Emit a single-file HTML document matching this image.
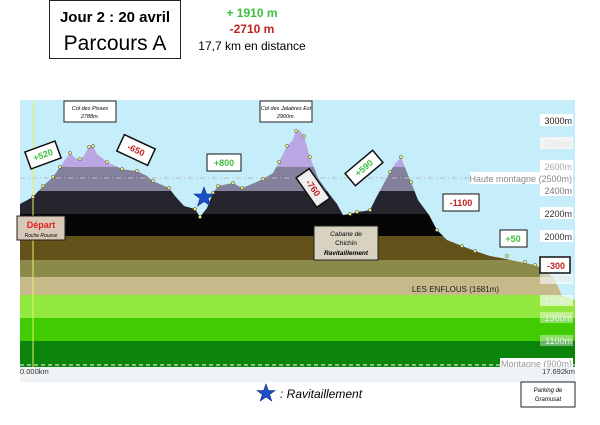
<!DOCTYPE html>
<html><head><meta charset="utf-8"><style>
html,body{margin:0;padding:0;background:#fff;width:600px;height:425px;overflow:hidden}
</style></head><body>
<svg width="600" height="425" viewBox="0 0 600 425" xmlns="http://www.w3.org/2000/svg" font-family="Liberation Sans, sans-serif">
<defs>
<clipPath id="c"><polygon points="20,204 33,197 43,186 53,177 60,167 70,153 75,158 80,159 83,157 89,147 93,146 97,154 107,162 122,169 128,170 137,171 147,176 153,181 169,188 175,196 184,206 195,209 200,217 207,208 213,193 218,186 233,183 242,188 252,184 263,179 273,173 279,162 287,146 292,141 296,131 299,130 304,136 310,157 318,178 330,195 337,204 343,215 350,214 357,212 365,211 370,210 376,198 390,172 395,164 401,157 406,170 411,182 418,200 429,215 437,230 447,240 462,246 475,251 490,256 501,258 520,262 535,265 545,270 555,280 562,296 575,300 575,367 20,367"/></clipPath>
</defs>
<rect x="49.5" y="0.5" width="131" height="58" fill="#fff" stroke="#222"/>
<text x="115" y="22" font-size="15" font-weight="bold" text-anchor="middle">Jour 2 : 20 avril</text>
<text x="115" y="50" font-size="21" text-anchor="middle">Parcours A</text>
<text x="252" y="17" font-size="12" font-weight="bold" fill="#3cc03c" text-anchor="middle">+ 1910 m</text>
<text x="252" y="33" font-size="12" font-weight="bold" fill="#c02020" text-anchor="middle">-2710 m</text>
<text x="252" y="50" font-size="12" text-anchor="middle">17,7 km en distance</text>
<rect x="20" y="100" width="555" height="267" fill="#c6eefa"/>
<g clip-path="url(#c)">
<rect x="20" y="100" width="555" height="67" fill="#b9a6e3"/>
<rect x="20" y="167" width="555" height="24" fill="#82809a"/>
<rect x="20" y="191" width="555" height="23" fill="#26252e"/>
<rect x="20" y="214" width="555" height="22" fill="#050505"/>
<rect x="20" y="236" width="555" height="24" fill="#625118"/>
<rect x="20" y="260" width="555" height="17" fill="#8c8a4a"/>
<rect x="20" y="277" width="555" height="18" fill="#c6b98a"/>
<rect x="20" y="295" width="555" height="23" fill="#92e840"/>
<rect x="20" y="318" width="555" height="23" fill="#40cc00"/>
<rect x="20" y="341" width="555" height="26" fill="#0b840b"/>
</g>
<line x1="20" y1="178" x2="575" y2="178" stroke="#bbb" stroke-dasharray="5,3,1,3"/>
<line x1="20" y1="365" x2="575" y2="365" stroke="#fff" stroke-dasharray="4,3"/>
<line x1="33" y1="100" x2="33" y2="367" stroke="#e8f060"/>
<g fill="#e8f070" stroke="#444" stroke-width="0.5">
<circle cx="33" cy="197" r="1.6"/><circle cx="43" cy="186" r="1.6"/><circle cx="53" cy="177" r="1.6"/><circle cx="60" cy="167" r="1.6"/><circle cx="70" cy="153" r="1.6"/><circle cx="80" cy="159" r="1.6"/><circle cx="89" cy="147" r="1.6"/><circle cx="93" cy="146" r="1.6"/><circle cx="107" cy="162" r="1.6"/><circle cx="122" cy="169" r="1.6"/><circle cx="137" cy="171" r="1.6"/><circle cx="153" cy="181" r="1.6"/><circle cx="169" cy="188" r="1.6"/><circle cx="195" cy="209" r="1.6"/><circle cx="200" cy="217" r="1.6"/><circle cx="213" cy="193" r="1.6"/><circle cx="218" cy="186" r="1.6"/><circle cx="233" cy="183" r="1.6"/><circle cx="242" cy="188" r="1.6"/><circle cx="263" cy="179" r="1.6"/><circle cx="279" cy="162" r="1.6"/><circle cx="287" cy="146" r="1.6"/><circle cx="296" cy="131" r="1.6"/><circle cx="304" cy="136" r="1.6"/><circle cx="310" cy="157" r="1.6"/><circle cx="350" cy="214" r="1.6"/><circle cx="357" cy="212" r="1.6"/><circle cx="370" cy="210" r="1.6"/><circle cx="390" cy="172" r="1.6"/><circle cx="401" cy="157" r="1.6"/><circle cx="411" cy="182" r="1.6"/><circle cx="437" cy="230" r="1.6"/><circle cx="462" cy="246" r="1.6"/><circle cx="475" cy="251" r="1.6"/><circle cx="507" cy="256" r="1.6"/><circle cx="525" cy="262" r="1.6"/><circle cx="535" cy="265" r="1.6"/>
</g>
<g font-size="9" text-anchor="end">
<rect x="540" y="114" width="33" height="12" fill="#fff"/><text x="572" y="124" fill="#222">3000m</text>
<rect x="540" y="137" width="33" height="12" fill="#f4f4f4"/><text x="572" y="147" fill="#e6e6e6">2800m</text>
<rect x="540" y="160" width="33" height="12" fill="#fff"/><text x="572" y="170" fill="#aaa">2600m</text>
<rect x="470" y="172" width="103" height="12" fill="#fff"/><text x="572" y="182" fill="#888">Haute montagne (2500m)</text>
<rect x="540" y="184" width="33" height="12" fill="#fff"/><text x="572" y="194" fill="#777">2400m</text>
<rect x="540" y="207" width="33" height="12" fill="#fff"/><text x="572" y="217" fill="#333">2200m</text>
<rect x="540" y="230" width="33" height="12" fill="#fff"/><text x="572" y="240" fill="#333">2000m</text>
<rect x="540" y="273" width="33" height="11" fill="#fff" opacity="0.6"/><text x="572" y="282" fill="#ddd">1700m</text>
<rect x="540" y="295" width="33" height="11" fill="#fff" opacity="0.6"/><text x="572" y="304" fill="#eee">1500m</text>
<rect x="540" y="312" width="33" height="11" fill="#fff" opacity="0.4"/><text x="572" y="321" fill="#eee">1300m</text>
<rect x="540" y="335" width="33" height="11" fill="#fff" opacity="0.4"/><text x="572" y="344" fill="#eee">1100m</text>
<rect x="500" y="358" width="73" height="9" fill="#fff"/><text x="572" y="367" fill="#999">Montagne (900m)</text>
</g>
<text x="499" y="292" font-size="8" fill="#222" text-anchor="end">LES ENFLOUS (1681m)</text>
<rect x="20" y="367" width="555" height="15" fill="#f0f3f5"/>
<text x="20" y="374" font-size="7.5" fill="#333">0.000km</text>
<text x="575" y="374" font-size="7.5" fill="#333" text-anchor="end">17.692km</text>
<g font-family="Liberation Sans, sans-serif" font-style="italic" font-size="5.5" text-anchor="middle">
<rect x="64" y="101" width="52" height="21" fill="#fff" stroke="#222"/>
<text x="90" y="110">Col des Pisses</text><text x="90" y="118">2788m.</text>
<rect x="260" y="101" width="52" height="21" fill="#fff" stroke="#222"/>
<text x="286" y="110">Col des Jalabres Est</text><text x="286" y="118">2900m.</text>
</g>
<g font-size="9" font-weight="bold" text-anchor="middle">
<g transform="translate(43,155) rotate(-20)"><rect x="-16" y="-9" width="32" height="18" fill="#fff" stroke="#111" stroke-width="1.5"/><text y="3" fill="#3cc03c">+520</text></g>
<g transform="translate(136,150) rotate(25)"><rect x="-17" y="-9" width="34" height="18" fill="#fff" stroke="#111" stroke-width="1.5"/><text y="3" fill="#c02020">-650</text></g>
<rect x="207" y="154" width="34" height="17" fill="#fff" stroke="#111"/><text x="224" y="166" fill="#3cc03c">+800</text>
<g transform="translate(364,168) rotate(-40)"><rect x="-18" y="-8" width="36" height="16" fill="#fff" stroke="#111" stroke-width="1.5"/><text y="3" fill="#3cc03c">+590</text></g>
<g transform="translate(313,188) rotate(55)"><rect x="-18" y="-8" width="36" height="16" fill="#eee" stroke="#111" stroke-width="1.5"/><text y="3" fill="#c02020">-760</text></g>
<rect x="443" y="194" width="36" height="17" fill="#fff" stroke="#111"/><text x="461" y="206" fill="#c02020">-1100</text>
<rect x="500" y="230" width="27" height="17" fill="#fff" stroke="#111"/><text x="513" y="242" fill="#3cc03c">+50</text>
<rect x="540" y="257" width="30" height="16" fill="#fff" stroke="#111" stroke-width="1.5"/><text x="556" y="269" fill="#c02020">-300</text>
</g>
<rect x="17" y="216" width="48" height="24" fill="#d8c8b8" stroke="#222"/>
<text x="41" y="228" font-size="9" font-weight="bold" fill="#e02020" text-anchor="middle">Départ</text>
<text x="41" y="237" font-size="5" font-style="italic" text-anchor="middle">Roche Rousse</text>
<rect x="314" y="226" width="64" height="34" fill="#d8d2c0" stroke="#222"/>
<text x="346" y="236" font-size="6.5" font-style="italic" text-anchor="middle">Cabane de</text>
<text x="346" y="245" font-size="6.5" text-anchor="middle">Chichin</text>
<text x="346" y="255" font-size="6.5" font-weight="bold" font-style="italic" text-anchor="middle">Ravitaillement</text>
<polygon points="204,187 206.5,194 214,194 208,198.5 210.5,206 204,201.5 197.5,206 200,198.5 194,194 201.5,194" fill="#1a50c8" stroke="#0a2a80" stroke-width="0.6"/>
<polygon points="266,384 268.3,390.5 275,390.5 269.6,394.5 271.8,401 266,397 260.2,401 262.4,394.5 257,390.5 263.7,390.5" fill="#1a50c8" stroke="#0a2a80" stroke-width="0.6"/>
<text x="280" y="398" font-size="12" font-style="italic">: Ravitaillement</text>
<rect x="521" y="382" width="54" height="25" fill="#fff" stroke="#222"/>
<text x="548" y="392" font-size="6" font-style="italic" text-anchor="middle">Parking de</text>
<text x="548" y="401" font-size="6" font-style="italic" text-anchor="middle">Gramusat</text>
</svg>
</body></html>
